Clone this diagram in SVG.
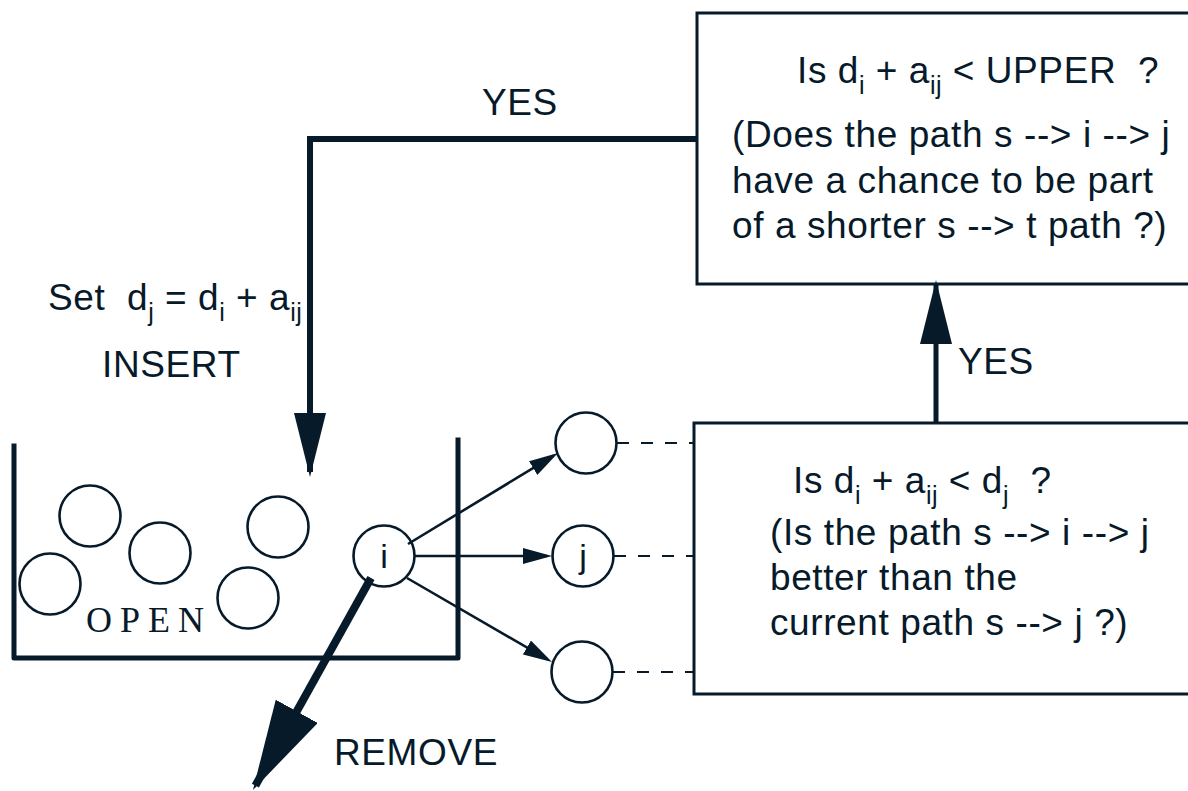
<svg xmlns="http://www.w3.org/2000/svg" width="1188" height="791" viewBox="0 0 1188 791">
  <style>
    .ink { stroke: #071a2a; fill: none; }
    .box { stroke: #071a2a; stroke-width: 3; fill: #ffffff; }
    .node { stroke: #071a2a; stroke-width: 2.6; fill: #ffffff; }
    .thin { stroke: #071a2a; stroke-width: 2.6; fill: none; }
    .dash { stroke: #071a2a; stroke-width: 2; fill: none; stroke-dasharray: 12 12; }
    .thick { stroke: #071a2a; stroke-width: 6; fill: none; stroke-linejoin: miter; }
    .wall { stroke: #071a2a; stroke-width: 5; fill: none; stroke-linejoin: round; stroke-linecap: square; }
    text { font-family: "Liberation Sans", Arial, sans-serif; font-size: 37px; letter-spacing: 0.6px; fill: #071a2a; }
    .serif { font-family: "Liberation Serif", "Times New Roman", serif; font-size: 36px; letter-spacing: 8px; }
    .sub { font-size: 25px; letter-spacing: 0.3px; }
    .lbl { font-size: 34px; text-anchor: middle; letter-spacing: 0; }
  </style>
  <defs>
    <marker id="headThin" markerUnits="userSpaceOnUse" markerWidth="29" markerHeight="16" refX="24" refY="8" orient="auto">
      <path d="M0,0 L29,8 L0,16 z" fill="#071a2a"/>
    </marker>
    <marker id="headBig" markerUnits="userSpaceOnUse" markerWidth="64" markerHeight="32" refX="59" refY="16" orient="auto">
      <path d="M0,0 L64,16 L0,32 z" fill="#071a2a"/>
    </marker>
    <marker id="headHuge" markerUnits="userSpaceOnUse" markerWidth="90" markerHeight="48" refX="85" refY="24" orient="auto">
      <path d="M0,0 L90,24 L0,48 z" fill="#071a2a"/>
    </marker>
  </defs>

  <!-- decision box: bound test -->
  <g id="upper-test">
    <rect class="box" x="697" y="13" width="520" height="271"/>
    <text x="797" y="83">Is d<tspan class="sub" dy="11">i</tspan><tspan dy="-11"> + a</tspan><tspan class="sub" dy="11">ij</tspan><tspan dy="-11" xml:space="preserve"> &lt; UPPER  ?</tspan></text>
    <text x="732" y="147">(Does the path s --&gt; i --&gt; j</text>
    <text x="732" y="193">have a chance to be part</text>
    <text x="732" y="238">of a shorter s --&gt; t path ?)</text>
  </g>

  <!-- decision box: label improvement test -->
  <g id="label-test">
    <rect class="box" x="694" y="423" width="520" height="271"/>
    <text x="793" y="493">Is d<tspan class="sub" dy="11">i</tspan><tspan dy="-11"> + a</tspan><tspan class="sub" dy="11">ij</tspan><tspan dy="-11"> &lt; d</tspan><tspan class="sub" dy="11">j</tspan><tspan dy="-11" xml:space="preserve">  ?</tspan></text>
    <text x="770" y="545">(Is the path s --&gt; i --&gt; j</text>
    <text x="770" y="590">better than the</text>
    <text x="770" y="635">current path s --&gt; j ?)</text>
  </g>

  <!-- OPEN list drawn as a container -->
  <g id="open-list">
    <path class="wall" d="M14,446 L14,658 L458,658 L458,440"/>
    <text class="serif" x="86" y="632">OPEN</text>
    <circle class="node" cx="90" cy="516" r="30.5"/>
    <circle class="node" cx="160" cy="553" r="30.5"/>
    <circle class="node" cx="50" cy="584" r="30.5"/>
    <circle class="node" cx="278" cy="527" r="30.5"/>
    <circle class="node" cx="248" cy="598" r="30.5"/>
  </g>

  <g id="node-i">
    <circle class="node" cx="384" cy="556" r="30.5"/>
    <text class="lbl" x="384" y="568">i</text>
  </g>

  <g id="node-top">
    <circle class="node" cx="586" cy="443" r="30.5"/>
  </g>

  <g id="node-j">
    <circle class="node" cx="583" cy="556" r="30.5"/>
    <text class="lbl" x="583" y="568">j</text>
  </g>

  <g id="node-bottom">
    <circle class="node" cx="582" cy="672" r="30.5"/>
  </g>

  <!-- connectors -->
  <g id="connectors">
    <line class="thin" x1="408" y1="544" x2="553.7" y2="455.6" marker-end="url(#headThin)"/>
    <line class="thin" x1="415" y1="556" x2="547" y2="556" marker-end="url(#headThin)"/>
    <line class="thin" x1="407" y1="578" x2="547.7" y2="659.5" marker-end="url(#headThin)"/>

    <line class="dash" x1="617" y1="443" x2="694" y2="443"/>
    <line class="dash" x1="614" y1="556" x2="694" y2="556"/>
    <line class="dash" x1="613" y1="672" x2="694" y2="672"/>

    <polyline class="thick" points="697,139 310,139 310,472" marker-end="url(#headBig)"/>
    <line class="ink" stroke-width="5" x1="936" y1="423" x2="936" y2="285" marker-end="url(#headBig)"/>
    <line class="ink" stroke-width="8" x1="371" y1="578" x2="255.4" y2="785.6" marker-end="url(#headHuge)"/>
  </g>

  <!-- connector labels -->
  <g id="labels">
    <text x="482" y="115">YES</text>
    <text x="958" y="374">YES</text>
    <text x="334" y="765">REMOVE</text>
    <text x="102" y="377">INSERT</text>
    <text x="48" y="310" xml:space="preserve">Set  d<tspan class="sub" dy="11">j</tspan><tspan dy="-11"> = d</tspan><tspan class="sub" dy="11">i</tspan><tspan dy="-11"> + a</tspan><tspan class="sub" dy="11">ij</tspan></text>
  </g>
</svg>
